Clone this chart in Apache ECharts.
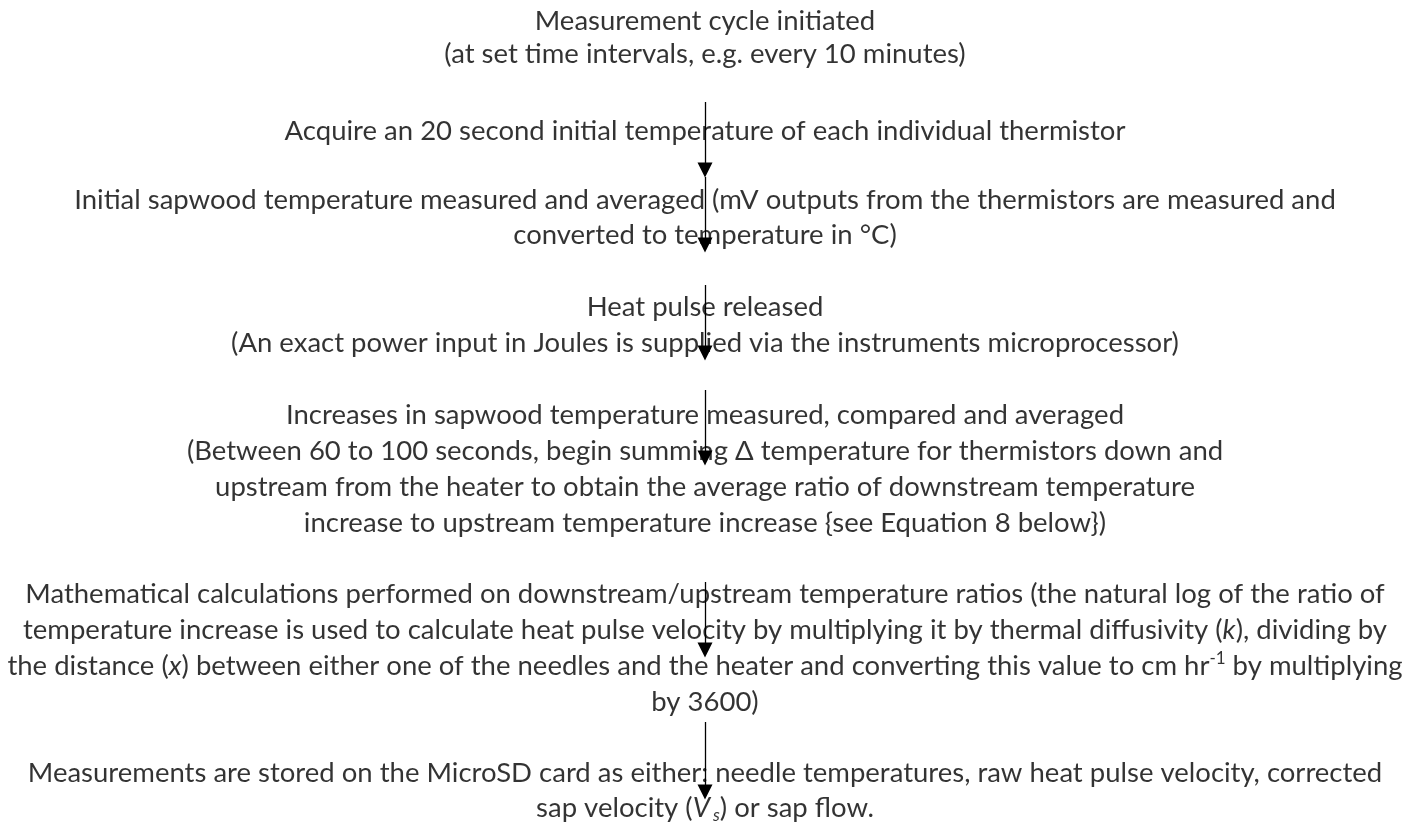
<!DOCTYPE html>
<html><head><meta charset="utf-8">
<script src="https://cdn.jsdelivr.net/npm/echarts@6/dist/echarts.min.js"></script>
<style>html,body{margin:0;padding:0;background:#fff}#c{width:1418px;height:823px}</style>
</head><body><div id="c"></div>
<script>
// Flowchart content (text lines of each step)
const steps = [
  ["Measurement cycle initiated",
   "(at set time intervals, e.g. every 10 minutes)"],
  ["Acquire an 20 second initial temperature of each individual thermistor"],
  ["Initial sapwood temperature measured and averaged (mV outputs from the thermistors are measured and",
   "converted to temperature in °C)"],
  ["Heat pulse released",
   "(An exact power input in Joules is supplied via the instruments microprocessor)"],
  ["Increases in sapwood temperature measured, compared and averaged",
   "(Between 60 to 100 seconds, begin summing Δ temperature for thermistors down and",
   "upstream from the heater to obtain the average ratio of downstream temperature",
   "increase to upstream temperature increase {see Equation 8 below})"],
  ["Mathematical calculations performed on downstream/upstream temperature ratios (the natural log of the ratio of",
   "temperature increase is used to calculate heat pulse velocity by multiplying it by thermal diffusivity ({i|k}), dividing by",
   "the distance ({i|x}) between either one of the needles and the heater and converting this value to cm hr{sup|-1} by multiplying",
   "by 3600)"],
  ["Measurements are stored on the MicroSD card as either: needle temperatures, raw heat pulse velocity, corrected",
   "sap velocity ({i|V}{sub|s}) or sap flow."]
];
// connectors: from step index to step index
const connectors = [[0,1],[1,2],[2,3],[3,4],[4,5],[5,6]];

// ---- layout (not data) ----
const W = 1418, H = 823, CX = 705, TX = 705;
const stepTop = [21, 131, 200, 307, 415, 594, 773];
const stepGap = [33, 36, 35, 36, 36, 36, 35];
const arrowSpan = [[102,170],[177,245],[285,353],[390,458],[582,650],[722,792]];
const FONT = 'Lato, "Open Sans", sans-serif';
const FS = 27.5;

const textData = [];
steps.forEach((lines, si) => {
  lines.forEach((t, li) => {
    textData.push({ value: [TX, stepTop[si] + li*stepGap[si]], name: t });
  });
});
const arrowData = connectors.map((c, i) => ({
  coords: [[CX, arrowSpan[i][0]], [CX, arrowSpan[i][1]]]
}));

const chart = echarts.init(document.getElementById('c'), null, {renderer:'canvas'});
chart.setOption({
  backgroundColor: '#fff',
  animation: false,
  grid: {left:0, right:0, top:0, bottom:0},
  xAxis: {type:'value', min:0, max:W, show:false},
  yAxis: {type:'value', min:0, max:H, inverse:true, show:false},
  series: [
    {
      type:'scatter', symbolSize:0, data:textData, silent:true,
      label:{
        show:true, position:'inside', formatter: p => p.name,
        color:'#000', fontFamily:FONT, fontSize:FS, lineHeight:32,
        align:'center', verticalAlign:'middle',
        rich:{
          i:{fontStyle:'italic', color:'#000', fontFamily:FONT, fontSize:FS, lineHeight:32},
          sup:{color:'#000', fontFamily:FONT, fontSize:17, lineHeight:32, verticalAlign:'top', padding:[0,0,8,0]},
          sub:{fontStyle:'italic', color:'#000', fontFamily:FONT, fontSize:17, lineHeight:32, verticalAlign:'bottom', padding:[4,0,0,3]}
        }
      }
    },
    {
      type:'lines', coordinateSystem:'cartesian2d', silent:true,
      data: arrowData,
      symbol:['none','triangle'], symbolSize:[12,15],
      lineStyle:{color:'#000', width:1.3, opacity:1},
      itemStyle:{color:'#000'}
    }
  ]
});
</script></body></html>
